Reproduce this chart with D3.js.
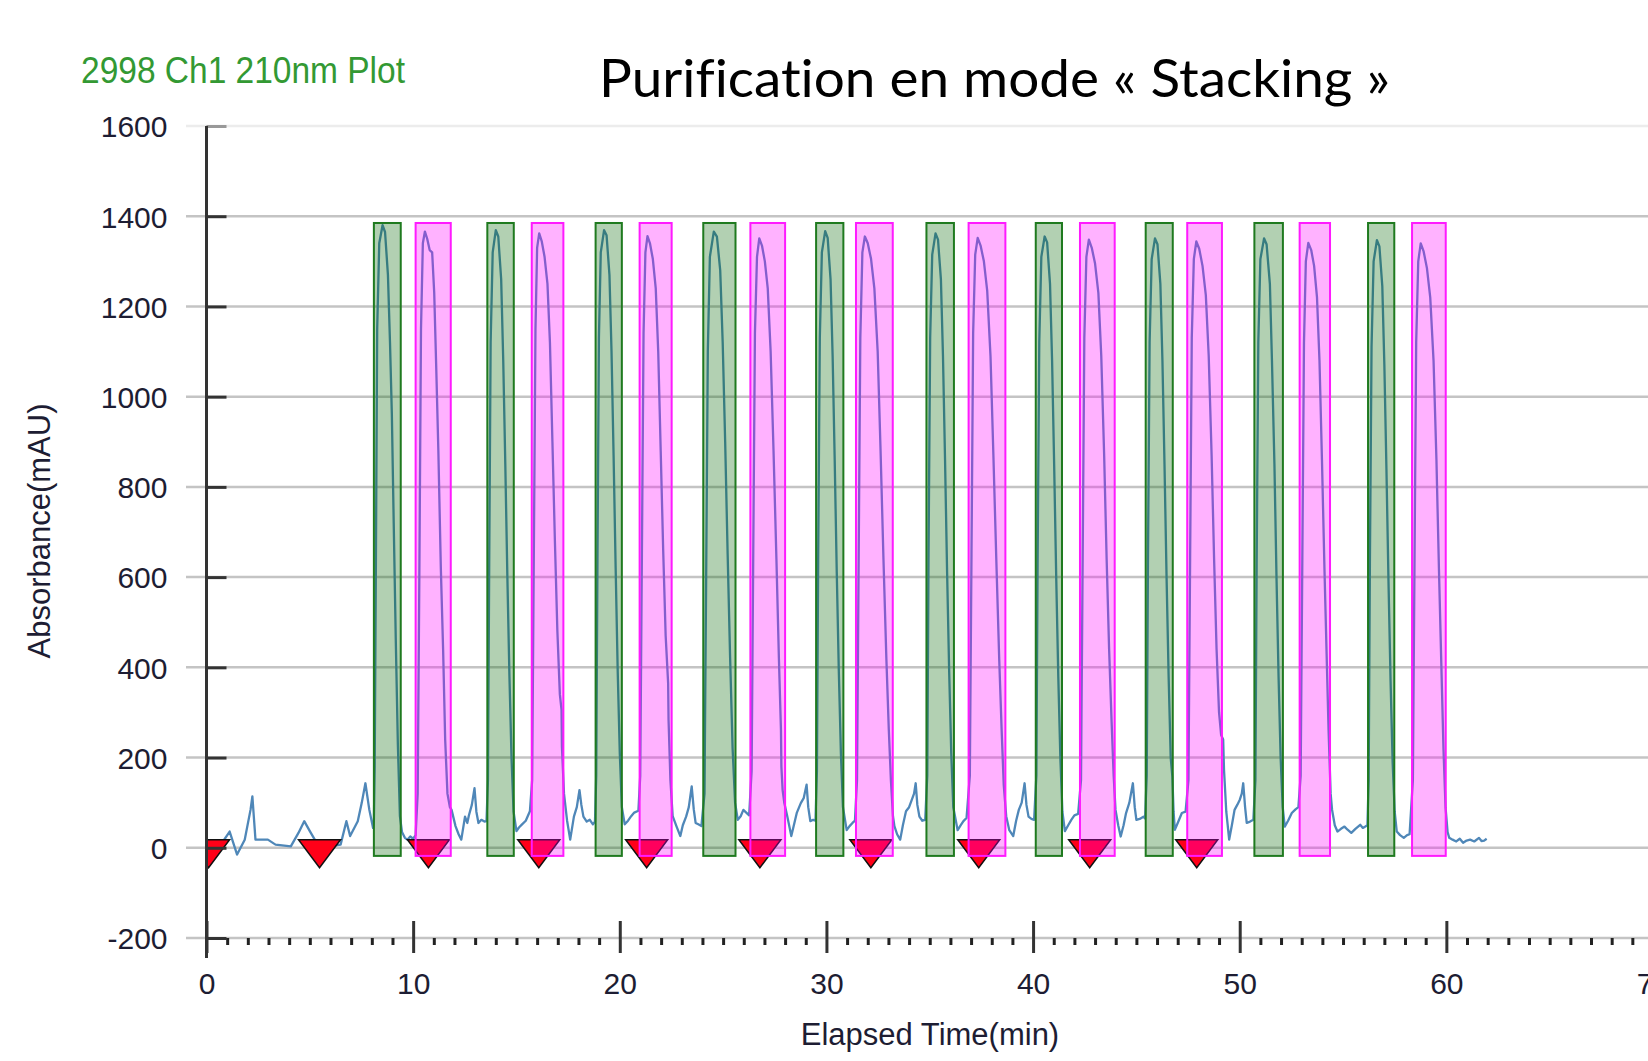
<!DOCTYPE html>
<html>
<head>
<meta charset="utf-8">
<script src="https://cdn.jsdelivr.net/npm/d3@7"></script>
<style>
  body { margin: 0; background: #fff; }
  svg { display: block; }
  text { font-family: "Liberation Sans", Arial, sans-serif; }
</style>
</head>
<body>
<svg id="chart" width="1648" height="1061"></svg>
<script>
// chart data

var xTicks = [0, 10, 20, 30, 40, 50, 60, 70]
var yTicks = [-200, 0, 200, 400, 600, 800, 1000, 1200, 1400, 1600]

// collected fractions, [start, end] in minutes
var greenFractions = [[8.10, 9.40], [13.59, 14.87], [18.83, 20.10], [24.04, 25.60], [29.50, 30.82],
                      [34.84, 36.17], [40.13, 41.40], [45.45, 46.76], [50.71, 52.09], [56.21, 57.48]]
var pinkFractions  = [[10.12, 11.82], [15.74, 17.27], [20.96, 22.51], [26.32, 28.00], [31.43, 33.21],
                      [36.88, 38.66], [42.27, 43.95], [47.46, 49.14], [52.90, 54.37], [58.34, 59.97]]
var fractionRange = [-18, 1385]

// injection markers (min)
var injections = [0.1, 5.47, 10.74, 16.08, 21.30, 26.78, 32.15, 37.37, 42.74, 47.92]

// 210nm trace, [time(min), absorbance(mAU)]
var trace = [
  [0,3],[0.5,-6],[1.12,36],[1.48,-15],[1.85,18],[2.13,84],[2.22,114],[2.37,18],[2.97,18],[3.34,7],[4.08,3],[4.45,33],[4.73,59],[5.0,37],[5.38,7],[5.93,3],[6.49,7],[6.77,59],[6.95,26],[7.32,59],[7.51,99],[7.69,143],[7.88,84],[8.06,44],
  [8.10,60],[8.14,180],[8.20,650],[8.26,1150],[8.36,1340],[8.52,1380],[8.64,1365],[8.78,1270],[8.88,1120],[8.97,960],[9.06,720],[9.16,460],[9.26,230],[9.36,70],[9.46,35],[9.6,22],[9.72,18],[9.86,25],[10.0,20],[10.12,28],
  [10.22,120],[10.3,600],[10.38,1150],[10.47,1340],[10.57,1366],[10.68,1350],[10.8,1325],[10.92,1320],[11.02,1230],[11.12,1060],[11.22,880],[11.34,620],[11.45,440],[11.55,240],[11.66,120],[11.78,90],[11.86,84],[12.05,48],[12.2,30],[12.33,18],[12.51,69],[12.62,55],[12.7,72],[12.84,95],[12.97,132],[13.06,80],[13.16,55],[13.3,62],[13.45,58],[13.55,59],
  [13.62,150],[13.68,620],[13.75,1120],[13.85,1320],[14.0,1369],[14.12,1355],[14.26,1260],[14.36,1080],[14.46,850],[14.56,600],[14.66,380],[14.76,200],[14.86,80],[15.0,37],[15.12,45],[15.27,52],[15.45,60],[15.65,81],
  [15.76,150],[15.84,650],[15.92,1150],[16.0,1330],[16.1,1362],[16.22,1345],[16.36,1310],[16.5,1250],[16.62,1120],[16.74,900],[16.86,680],[16.98,480],[17.1,340],[17.18,306],[17.2,224],[17.3,120],[17.45,60],[17.6,18],[17.78,69],[17.92,90],[18.05,128],[18.14,95],[18.24,69],[18.4,58],[18.55,62],[18.7,52],[18.8,58],
  [18.86,160],[18.92,640],[18.99,1130],[19.08,1320],[19.24,1369],[19.36,1358],[19.5,1270],[19.6,1100],[19.7,870],[19.8,620],[19.9,390],[20.0,210],[20.1,90],[20.24,52],[20.4,60],[20.55,70],[20.7,78],[20.9,82],
  [20.99,160],[21.07,650],[21.15,1140],[21.24,1320],[21.34,1356],[21.46,1340],[21.6,1305],[21.74,1240],[21.86,1100],[21.98,880],[22.1,660],[22.22,470],[22.34,365],[22.36,284],[22.45,150],[22.56,70],[22.74,48],[22.93,26],[23.05,50],[23.21,69],[23.34,90],[23.48,136],[23.58,85],[23.67,55],[23.8,52],[23.95,48],
  [24.1,120],[24.18,600],[24.26,1100],[24.36,1310],[24.55,1366],[24.7,1355],[24.86,1280],[24.98,1120],[25.1,900],[25.22,650],[25.34,420],[25.46,220],[25.58,100],[25.71,62],[25.85,70],[25.98,84],[26.12,78],[26.26,72],
  [26.38,170],[26.46,660],[26.54,1140],[26.64,1310],[26.75,1351],[26.88,1335],[27.02,1300],[27.16,1240],[27.3,1100],[27.44,880],[27.58,640],[27.7,420],[27.8,260],[27.82,180],[27.88,128],[27.96,100],[28.11,69],[28.3,26],[28.45,55],[28.57,78],[28.66,88],[28.76,99],[28.9,110],[29.04,140],[29.12,90],[29.22,59],[29.36,62],[29.47,60],
  [29.54,170],[29.6,640],[29.68,1130],[29.78,1320],[29.94,1367],[30.06,1352],[30.2,1260],[30.3,1090],[30.4,860],[30.5,610],[30.6,390],[30.7,210],[30.8,90],[30.98,39],[31.12,48],[31.26,55],[31.38,60],
  [31.48,150],[31.56,640],[31.64,1130],[31.74,1320],[31.86,1355],[32.0,1340],[32.16,1305],[32.32,1240],[32.48,1100],[32.62,880],[32.76,640],[32.9,420],[33.02,260],[33.12,150],[33.22,70],[33.29,48],[33.42,30],[33.57,18],[33.7,50],[33.85,81],[34.0,90],[34.13,106],[34.24,120],[34.32,143],[34.4,95],[34.5,69],[34.64,60],[34.78,62],
  [34.88,160],[34.94,640],[35.02,1130],[35.12,1315],[35.28,1362],[35.4,1348],[35.54,1260],[35.64,1090],[35.74,860],[35.84,610],[35.94,390],[36.04,210],[36.14,90],[36.35,39],[36.5,50],[36.63,59],[36.78,66],
  [36.94,160],[37.02,650],[37.1,1140],[37.2,1315],[37.32,1352],[37.46,1335],[37.62,1300],[37.78,1235],[37.94,1090],[38.08,870],[38.22,640],[38.36,420],[38.48,260],[38.58,140],[38.7,70],[38.85,39],[39.04,26],[39.18,60],[39.31,84],[39.45,100],[39.59,143],[39.68,95],[39.78,69],[39.92,64],[40.05,62],
  [40.16,160],[40.22,640],[40.3,1120],[40.4,1310],[40.56,1355],[40.68,1342],[40.82,1250],[40.92,1080],[41.02,850],[41.12,600],[41.22,380],[41.32,200],[41.42,80],[41.54,37],[41.7,50],[41.85,62],[42.0,72],[42.18,75],
  [42.32,150],[42.4,640],[42.48,1130],[42.58,1310],[42.7,1348],[42.84,1330],[43.0,1295],[43.16,1230],[43.3,1090],[43.44,870],[43.56,640],[43.68,440],[43.8,280],[43.9,160],[43.99,84],[44.12,50],[44.24,25],[44.38,50],[44.5,77],[44.66,100],[44.83,143],[44.92,90],[45.0,62],[45.16,64],[45.34,69],[45.42,65],
  [45.5,160],[45.56,640],[45.64,1120],[45.74,1305],[45.9,1351],[46.02,1338],[46.16,1250],[46.26,1080],[46.36,850],[46.46,600],[46.56,380],[46.66,200],[46.74,158],[46.8,80],[46.86,40],[47.0,55],[47.2,77],[47.38,80],
  [47.52,150],[47.6,640],[47.68,1130],[47.78,1305],[47.9,1344],[48.04,1328],[48.2,1290],[48.36,1225],[48.5,1090],[48.64,870],[48.76,640],[48.88,440],[49.0,300],[49.1,250],[49.2,240],[49.24,173],[49.35,80],[49.49,18],[49.62,50],[49.75,84],[49.88,95],[50.0,106],[50.1,120],[50.17,143],[50.26,90],[50.34,55],[50.5,58],[50.66,62],
  [50.76,150],[50.82,630],[50.9,1120],[51.0,1305],[51.18,1351],[51.3,1338],[51.46,1250],[51.56,1080],[51.68,850],[51.78,600],[51.88,380],[51.98,200],[52.08,90],[52.18,47],[52.34,60],[52.52,77],[52.7,85],[52.84,90],
  [52.95,160],[53.03,640],[53.11,1120],[53.2,1300],[53.32,1341],[53.46,1325],[53.6,1290],[53.74,1220],[53.86,1080],[53.98,860],[54.1,620],[54.2,439],[54.3,260],[54.4,120],[54.47,84],[54.6,50],[54.73,36],[54.9,42],[55.07,47],[55.22,40],[55.4,33],[55.6,42],[55.83,51],[55.96,44],[56.08,47],[56.18,50],
  [56.24,150],[56.3,630],[56.38,1110],[56.48,1300],[56.64,1347],[56.76,1333],[56.9,1245],[57.0,1070],[57.1,840],[57.2,590],[57.3,370],[57.4,190],[57.5,80],[57.6,36],[57.76,28],[57.94,22],[58.1,28],[58.22,30],
  [58.38,150],[58.46,640],[58.54,1120],[58.64,1300],[58.76,1340],[58.9,1322],[59.06,1285],[59.22,1220],[59.38,1080],[59.52,860],[59.64,620],[59.76,400],[59.86,220],[59.96,90],[60.06,35],[60.14,22],[60.3,18],[60.48,14],[60.65,20],[60.81,11],[60.98,16],[61.15,18],[61.35,14],[61.58,22],[61.7,15],[61.83,16],[61.95,20]
]

var W = 1648, H = 1061
var svg = d3.select('#chart')

var x = d3.scaleLinear().domain([0, 70]).range([206.5, 1653])
var y = d3.scaleLinear().domain([-200, 1600]).range([938, 126])

svg.append('defs').append('clipPath').attr('id', 'plot')
  .append('rect').attr('x', x(0)).attr('y', 0).attr('width', W - x(0)).attr('height', H)

// horizontal grid lines
svg.append('g').selectAll('line').data(yTicks).enter().append('line')
  .attr('x1', 186).attr('x2', W)
  .attr('y1', function (d) { return y(d) }).attr('y2', function (d) { return y(d) })
  .attr('stroke', function (d) { return d == 1600 ? '#ececec' : '#c4c4c4' })
  .attr('stroke-width', 2.5)

var plot = svg.append('g').attr('clip-path', 'url(#plot)')

// trace
plot.append('path').datum(trace)
  .attr('fill', 'none').attr('stroke', '#4f87b8').attr('stroke-width', 2.3)
  .attr('stroke-linejoin', 'round')
  .attr('d', d3.line().x(function (d) { return x(d[0]) }).y(function (d) { return y(d[1]) }))

// injection markers
plot.append('g').selectAll('path').data(injections).enter().append('path')
  .attr('d', function (d) {
    var cx = x(d), y0 = y(0)
    return 'M' + (cx - 21) + ',' + (y0 - 8) + 'L' + (cx + 21) + ',' + (y0 - 8) + 'L' + cx + ',' + (y0 + 20) + 'Z'
  })
  .attr('fill', '#ff0018').attr('stroke', '#111').attr('stroke-width', 1.5)

// fraction boxes
function drawFractions (data, fill, stroke) {
  plot.append('g').selectAll('rect').data(data).enter().append('rect')
    .attr('x', function (d) { return x(d[0]) })
    .attr('width', function (d) { return x(d[1]) - x(d[0]) })
    .attr('y', y(fractionRange[1]))
    .attr('height', y(fractionRange[0]) - y(fractionRange[1]))
    .attr('fill', fill).attr('fill-opacity', 0.3)
    .attr('stroke', stroke).attr('stroke-width', 2)
}
drawFractions(greenFractions, '#006400', '#1f7a1f')
drawFractions(pinkFractions, '#ff00ff', '#ff1aff')

// y axis
var yAxis = svg.append('g').attr('transform', 'translate(' + x(0) + ',0)')
  .call(d3.axisLeft(y).tickValues(yTicks).tickFormat(function (d) { return String(d) })
    .tickSizeOuter(0).tickSizeInner(20).tickPadding(19))
yAxis.select('.domain').remove()
yAxis.selectAll('.tick line').attr('x2', 20)
  .attr('stroke', function (d) { return d == 1600 ? '#999' : '#333' }).attr('stroke-width', 3)
yAxis.selectAll('.tick text').attr('font-size', 30).attr('fill', '#1d1d33').attr('dy', '0.36em')
svg.append('line').attr('x1', x(0)).attr('x2', x(0)).attr('y1', y(1600)).attr('y2', 958)
  .attr('stroke', '#333').attr('stroke-width', 3)

// x axis, minor then major ticks
var minorTicks = d3.range(0, 71).filter(function (d) { return d % 10 != 0 })
var xMinor = svg.append('g').attr('transform', 'translate(0,' + y(-200) + ')')
  .call(d3.axisBottom(x).tickValues(minorTicks).tickSize(7).tickFormat(''))
xMinor.select('.domain').remove()
xMinor.selectAll('.tick line').attr('stroke', '#222').attr('stroke-width', 3)

var xMajor = svg.append('g').attr('transform', 'translate(0,' + y(-200) + ')')
  .call(d3.axisBottom(x).tickValues(xTicks).tickSize(15).tickPadding(20))
xMajor.select('.domain').remove()
xMajor.selectAll('.tick line').attr('y1', -17).attr('stroke', '#333').attr('stroke-width', 3)
xMajor.selectAll('.tick text').attr('font-size', 30).attr('fill', '#1d1d33')

// labels
svg.append('text').attr('x', 81).attr('y', 83).attr('font-size', 36).attr('fill', '#339933')
  .attr('textLength', 324).attr('lengthAdjust', 'spacingAndGlyphs')
  .text('2998 Ch1 210nm Plot')

svg.append('text').attr('x', 599).attr('y', 97)
  .style('font-family', 'Lato, "Open Sans", sans-serif').style('font-variant-ligatures', 'none')
  .attr('font-size', 53).attr('fill', '#000')
  .attr('textLength', 791).attr('lengthAdjust', 'spacingAndGlyphs')
  .text('Purification en mode « Stacking »')

svg.append('text').attr('x', 930).attr('y', 1045).attr('text-anchor', 'middle')
  .attr('font-size', 31).attr('fill', '#1d1d33').text('Elapsed Time(min)')

svg.append('text').attr('transform', 'translate(50,531) rotate(-90)').attr('text-anchor', 'middle')
  .attr('font-size', 31).attr('fill', '#1d1d33').text('Absorbance(mAU)')
</script>
</body>
</html>
